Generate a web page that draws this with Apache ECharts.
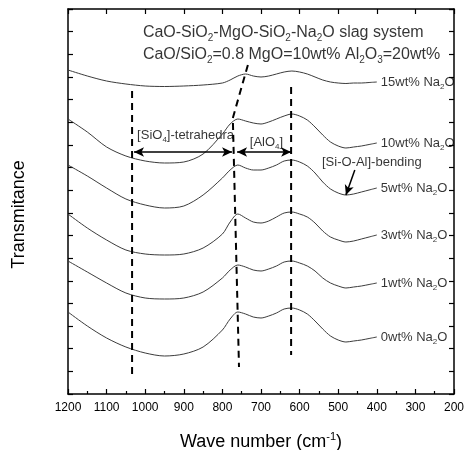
<!DOCTYPE html>
<html><head><meta charset="utf-8">
<script src="https://cdn.jsdelivr.net/npm/echarts@6/dist/echarts.min.js"></script>
<style>html,body{margin:0;padding:0;background:#fff}#c{width:464px;height:450px}</style>
</head><body><div id="c"></div>
<script>
// Wave numbers (cm-1) shared by all spectra
const wavenumbers = [1200,1150,1100,1050,1000,950,900,850,800,780,760,740,720,700,680,660,640,620,600,580,560,540,520,500,480,460,440,420,400];
// Offset transmittance (a.u.) per Na2O content
const na15 = [324,318,313,310,308,307.5,308,309,311,314,318,320,318,317,318,320,322,323,322,320,317,314,312,311,310.5,311,311,311.5,312];
const na10 = [275,262,247,238,233,231,232,240,260,270,275,273,271,270,272,275,278,280,278,274,267,259,252,248,246,247,248,249.5,251];
const na5  = [229,218,206,195,189,186,188,199,216,224,229,226,224,224,226,229,233,234,232,228,221,212,205,201,199,200,202,204,206];
const na3  = [180,166,154,144,140,139,140,146,160,172,180,176,172,171,173,177,181,182,180,177,171,163,157,154,152,153,155,157,159];
const na1  = [133,122,111,101,96,95,96,102,116,124,129,127,124,123,125,128,132,133,131,128,123,116,111,108,106,107,108,109.5,111];
const na0  = [82,68,56,47,41,38,40,47,64,75,82,80,77,76,78,81,85,86,84,80,73,65,58,54,52,53,54,55.5,57];
const seriesNames = ['15wt% Na2O','10wt% Na2O','5wt% Na2O','3wt% Na2O','1wt% Na2O','0wt% Na2O'];
const seriesLabels = ['{t|15wt% Na}{s|2}{t|O}','{t|10wt% Na}{s|2}{t|O}','{t|5wt% Na}{s|2}{t|O}','{t|3wt% Na}{s|2}{t|O}','{t|1wt% Na}{s|2}{t|O}','{t|0wt% Na}{s|2}{t|O}'];
const seriesValues = [na15, na10, na5, na3, na1, na0];
const xTicks = {min:200, max:1200, step:100};
const yRange = {min:0, max:385, divisions:17};
// Guide lines (band positions) in data coordinates
const guideSiO4 = [[1034,303],[1034,16]];
const guideAlO4 = [[734,329],[773,276],[757,27]];
const guideSiOAl = [[622,307],[622,39]];
// Arrows
const arrowSiO4 = [[1029,242],[775,242]];
const arrowAlO4 = [[762,242],[622,242]];
const arrowBend = [[457,224],[480,199]];
// Annotations
const notes = [
  {text:'{t|CaO-SiO}{s|2}{t|-MgO-SiO}{s|2}{t|-Na}{s|2}{t|O slag system}', at:[1006,361], size:16},
  {text:'{t|CaO/SiO}{s|2}{t|=0.8 MgO=10wt% Al}{s|2}{t|O}{s|3}{t|=20wt%}', at:[1006,339], size:16},
  {text:'{t|[SiO}{s|4}{t|]-tetrahedra}', at:[1021,259], size:13},
  {text:'{t|[AlO}{s|4}{t|]}', at:[729,252], size:13},
  {text:'{t|[Si-O-Al]-bending}', at:[542,232], size:13}
];

const FONT = '"Liberation Sans", Arial, Helvetica, sans-serif';
function rich(size){
  return {
    t:{fontSize:size, lineHeight:size+4, fontFamily:FONT, color:'#000', verticalAlign:'middle'},
    s:{fontSize:Math.round(size*0.62), fontFamily:FONT, color:'#000', verticalAlign:'bottom'}
  };
}

const series = [];
seriesValues.forEach((vals, i) => {
  series.push({
    name: seriesNames[i], type:'line', smooth:0.3, symbol:'none', silent:true,
    data: wavenumbers.map((w,k)=>[w, vals[k]]),
    lineStyle:{color:'#3c3c3c', width:1}
  });
});
// curve-end labels, anchored at the last point of each spectrum
const lastIdx = wavenumbers.length - 1;
series.push({type:'scatter', symbolSize:0, silent:true,
  data: seriesValues.map((vals,i) => ({value:[wavenumbers[lastIdx], vals[lastIdx]],
    label:{show:true, position:'right', distance:4, formatter:seriesLabels[i], rich:rich(13)}}))
});
[guideSiO4, guideAlO4, guideSiOAl].forEach(g => {
  series.push({type:'line', symbol:'none', silent:true, data:g,
    lineStyle:{color:'#000', width:2, type:[7,5]}});
});
series.push({type:'line', symbol:'none', silent:true, data:[],
  markLine:{silent:true, animation:false, symbolSize:[7,10], label:{show:false},
    lineStyle:{color:'#000', width:1.5, type:'solid'},
    data:[
      [{coord:arrowSiO4[0], symbol:'arrow'},{coord:arrowSiO4[1], symbol:'arrow'}],
      [{coord:arrowAlO4[0], symbol:'arrow'},{coord:arrowAlO4[1], symbol:'arrow'}],
      [{coord:arrowBend[0], symbol:'none'},{coord:arrowBend[1], symbol:'arrow'}]
    ]}
});
series.push({type:'scatter', symbolSize:0, silent:true,
  data: notes.map(n => ({value:n.at, label:{show:true, position:'right', distance:0, formatter:n.text, rich:rich(n.size)}}))
});

const axisCommon = {
  axisLine:{show:true, onZero:false, lineStyle:{color:'#000', width:1.5}},
  splitLine:{show:false}
};
const chart = echarts.init(document.getElementById('c'), null, {renderer:'canvas'});
chart.setOption({
  animation:false,
  backgroundColor:'#fff',
  grid:{left:68, right:10, top:9, bottom:56, containLabel:false, outerBoundsMode:'none'},
  xAxis:[
    Object.assign({type:'value', position:'bottom', min:xTicks.min, max:xTicks.max, interval:xTicks.step, inverse:true,
      axisTick:{inside:true, length:5, lineStyle:{color:'#000', width:1.2}},
      minorTick:{show:true, splitNumber:2, length:3, lineStyle:{color:'#000', width:1.2}},
      axisLabel:{fontSize:12, color:'#000', margin:8, fontFamily:FONT, formatter:v => String(v)},
      name:'{t|Wave number (cm}{p|-1}{t|)}', nameLocation:'middle', nameGap:37,
      nameTextStyle:{rich:{t:{fontSize:18, lineHeight:22, fontFamily:FONT, color:'#000'}, p:{fontSize:11, fontFamily:FONT, color:'#000', verticalAlign:'top'}}}
    }, axisCommon),
    Object.assign({type:'value', position:'top', min:xTicks.min, max:xTicks.max, interval:xTicks.step, inverse:true,
      axisTick:{inside:true, length:5, lineStyle:{color:'#000', width:1.2}},
      axisLabel:{show:false}
    }, axisCommon)
  ],
  yAxis:[
    Object.assign({type:'value', position:'left', min:yRange.min, max:yRange.max, interval:(yRange.max-yRange.min)/yRange.divisions,
      axisTick:{inside:true, length:5, lineStyle:{color:'#000', width:1.2}},
      axisLabel:{show:false},
      name:'Transmitance', nameLocation:'middle', nameGap:40,
      nameTextStyle:{fontSize:18, fontFamily:FONT, color:'#000', padding:[0,26,0,0]}
    }, axisCommon),
    Object.assign({type:'value', position:'right', min:yRange.min, max:yRange.max, interval:(yRange.max-yRange.min)/yRange.divisions,
      axisTick:{inside:true, length:5, lineStyle:{color:'#000', width:1.2}},
      axisLabel:{show:false}
    }, axisCommon)
  ],
  series: series
});
</script></body></html>
